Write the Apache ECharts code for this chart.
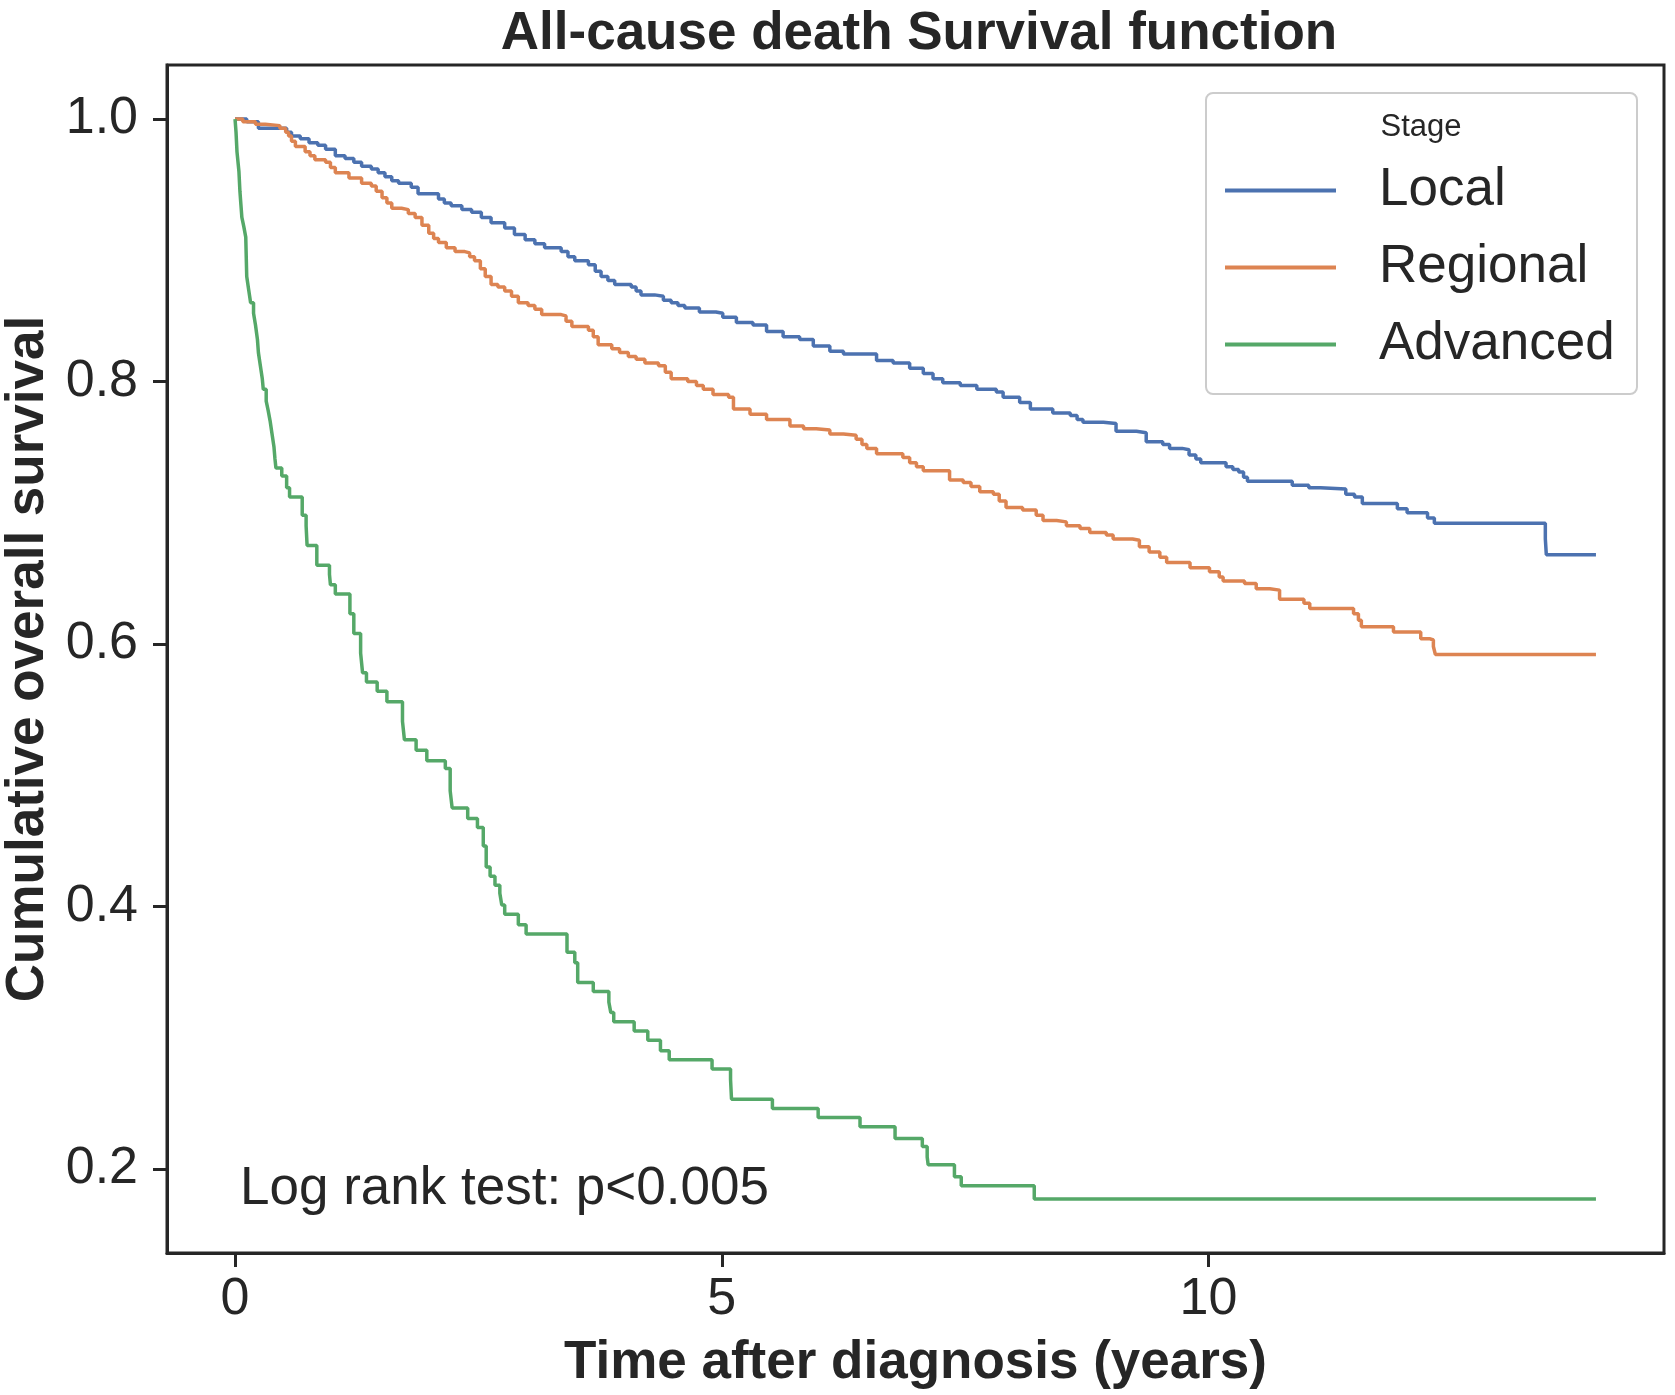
<!DOCTYPE html>
<html>
<head>
<meta charset="utf-8">
<script src="https://cdn.jsdelivr.net/npm/echarts@6/dist/echarts.min.js"></script>
<style>
html,body{margin:0;padding:0;background:#fff;}
#chart{width:1675px;height:1395px;}
</style>
</head>
<body>
<div id="chart"></div>
<script>
var seriesNames = ['Local', 'Regional', 'Advanced'];
var xTicks = [0, 5, 10];
var yTicks = [0.2, 0.4, 0.6, 0.8, 1.0];

var localT = [0,0.12,0.24,0.53,0.58,0.67,0.76,0.85,0.93,1.03,1.13,1.22,1.30,1.40,1.47,1.54,1.61,1.68,1.81,1.88,2.09,2.15,2.22,2.33,2.43,2.53,2.63,2.77,2.87,2.98,3.08,3.18,3.35,3.42,3.49,3.63,3.70,3.76,3.83,3.90,4.07,4.12,4.17,4.31,4.40,4.48,4.55,4.62,4.77,4.94,5.01,5.15,5.32,5.46,5.63,5.80,5.94,6.11,6.25,6.59,6.76,6.93,7.07,7.17,7.27,7.45,7.62,7.82,7.89,8.06,8.17,8.40,8.58,8.65,8.71,8.92,9.05,9.26,9.36,9.53,9.60,9.73,9.80,9.87,9.92,10.18,10.25,10.31,10.36,10.40,10.86,11.03,11.15,11.41,11.50,11.58,11.94,12.04,12.25,12.32,13.46,13.47,13.98];
var localS = [1.0,0.998,0.993,0.990,0.987,0.985,0.982,0.980,0.977,0.972,0.970,0.967,0.964,0.962,0.959,0.956,0.953,0.951,0.948,0.943,0.939,0.936,0.934,0.931,0.929,0.925,0.921,0.917,0.912,0.908,0.905,0.902,0.899,0.895,0.892,0.889,0.884,0.880,0.877,0.874,0.872,0.869,0.866,0.865,0.862,0.860,0.858,0.856,0.853,0.852,0.849,0.845,0.843,0.838,0.834,0.832,0.827,0.823,0.821,0.816,0.814,0.810,0.806,0.802,0.799,0.797,0.794,0.792,0.788,0.784,0.779,0.776,0.774,0.771,0.769,0.768,0.762,0.761,0.754,0.752,0.749,0.748,0.744,0.741,0.738,0.735,0.733,0.731,0.727,0.724,0.721,0.719,0.718,0.714,0.712,0.707,0.703,0.700,0.696,0.692,0.680,0.668,0.668];

var regionalT = [0,0.08,0.21,0.31,0.46,0.52,0.55,0.58,0.62,0.72,0.77,0.82,0.93,0.98,1.03,1.17,1.30,1.40,1.45,1.51,1.56,1.61,1.71,1.78,1.85,1.92,1.99,2.04,2.09,2.17,2.26,2.36,2.41,2.46,2.52,2.57,2.63,2.70,2.77,2.84,2.91,3.01,3.08,3.15,3.35,3.40,3.46,3.63,3.68,3.73,3.87,3.95,4.04,4.12,4.21,4.35,4.42,4.48,4.65,4.74,4.81,4.91,5.07,5.12,5.29,5.46,5.70,5.84,5.97,6.11,6.25,6.38,6.44,6.49,6.59,6.86,6.93,7.00,7.07,7.34,7.48,7.56,7.65,7.79,7.85,7.92,8.09,8.23,8.30,8.44,8.54,8.68,8.78,8.95,9.02,9.22,9.29,9.39,9.50,9.57,9.81,10.01,10.11,10.15,10.37,10.49,10.63,10.73,10.98,11.04,11.49,11.54,11.57,11.90,12.18,12.27,12.31,12.33,13.98];
var regionalS = [1.0,0.998,0.996,0.995,0.993,0.990,0.987,0.983,0.979,0.975,0.972,0.969,0.967,0.963,0.959,0.955,0.951,0.949,0.945,0.940,0.936,0.932,0.931,0.928,0.925,0.919,0.913,0.909,0.906,0.902,0.899,0.898,0.895,0.892,0.886,0.880,0.874,0.872,0.869,0.865,0.860,0.858,0.855,0.851,0.850,0.846,0.842,0.839,0.834,0.828,0.825,0.822,0.819,0.817,0.814,0.812,0.807,0.802,0.800,0.797,0.794,0.790,0.788,0.779,0.775,0.771,0.766,0.764,0.763,0.760,0.759,0.756,0.752,0.749,0.745,0.742,0.738,0.735,0.732,0.725,0.723,0.720,0.716,0.714,0.709,0.704,0.702,0.698,0.694,0.693,0.690,0.688,0.685,0.683,0.680,0.679,0.674,0.670,0.666,0.662,0.658,0.655,0.651,0.648,0.646,0.642,0.641,0.634,0.631,0.627,0.623,0.618,0.613,0.609,0.604,0.603,0.598,0.592,0.592];

var advancedT = [0,0.01,0.02,0.04,0.05,0.06,0.07,0.09,0.11,0.115,0.12,0.14,0.16,0.19,0.21,0.23,0.24,0.26,0.28,0.29,0.32,0.34,0.36,0.38,0.40,0.41,0.42,0.48,0.53,0.56,0.69,0.73,0.74,0.84,0.97,0.98,1.03,1.18,1.22,1.29,1.31,1.35,1.46,1.56,1.72,1.74,1.86,1.97,2.16,2.21,2.23,2.39,2.49,2.55,2.58,2.62,2.67,2.72,2.74,2.77,2.91,2.99,3.41,3.49,3.52,3.68,3.84,3.86,3.89,4.10,4.24,4.37,4.46,4.90,5.09,5.10,5.52,5.99,6.42,6.78,7.06,7.11,7.12,7.39,7.46,8.21,13.98];
var advancedS = [1.0,0.990,0.975,0.960,0.945,0.935,0.925,0.918,0.910,0.895,0.880,0.870,0.860,0.852,0.843,0.832,0.822,0.812,0.802,0.794,0.785,0.778,0.770,0.760,0.750,0.741,0.734,0.728,0.719,0.712,0.698,0.690,0.675,0.660,0.653,0.645,0.638,0.623,0.608,0.593,0.578,0.571,0.564,0.556,0.541,0.527,0.519,0.511,0.505,0.488,0.475,0.467,0.460,0.446,0.430,0.423,0.416,0.410,0.401,0.394,0.386,0.379,0.365,0.357,0.342,0.335,0.327,0.319,0.312,0.305,0.298,0.290,0.283,0.276,0.268,0.253,0.246,0.239,0.232,0.223,0.217,0.209,0.203,0.194,0.187,0.177,0.177];

var colors = ['#4C72B0', '#DD8452', '#55A868'];
var FONT = '"Liberation Sans", Arial, Helvetica, sans-serif';
var INK = '#262626';

function pairs(t, s) { return t.map(function (v, i) { return [v, s[i]]; }); }
var seriesData = [pairs(localT, localS), pairs(regionalT, regionalS), pairs(advancedT, advancedS)];

var chart = echarts.init(document.getElementById('chart'));
chart.setOption({
  animation: false,
  backgroundColor: '#ffffff',
  color: colors,
  title: {
    text: 'All-cause death Survival function',
    left: 914, top: 3, textAlign: 'center',
    textStyle: { fontFamily: FONT, fontSize: 53, fontWeight: 'bold', color: INK }
  },
  grid: {
    left: 167, right: 11, top: 65, bottom: 142,
    containLabel: false, outerBoundsMode: 'none',
    show: true, borderColor: INK, borderWidth: 3, backgroundColor: 'transparent'
  },
  legend: {
    orient: 'vertical',
    left: 1225, top: 164,
    padding: 0,
    itemGap: 24,
    itemWidth: 111, itemHeight: 4,
    icon: 'rect',
    data: seriesNames,
    textStyle: { fontFamily: FONT, fontSize: 53, color: INK, lineHeight: 52, padding: [0, 0, 0, 38] }
  },
  xAxis: {
    type: 'value',
    min: -0.699, max: 14.679,
    name: 'Time after diagnosis (years)',
    nameLocation: 'middle', nameGap: 84,
    nameTextStyle: { fontFamily: FONT, fontSize: 53, fontWeight: 'bold', color: INK },
    axisLine: { show: true, onZero: false, lineStyle: { color: INK, width: 3 } },
    axisTick: { show: true, length: 14, customValues: xTicks, lineStyle: { color: INK, width: 3 } },
    axisLabel: { customValues: xTicks, margin: 21, fontFamily: FONT, fontSize: 52, color: INK },
    splitLine: { show: false }
  },
  yAxis: {
    type: 'value',
    min: 0.1358, max: 1.0412,
    name: 'Cumulative overall survival',
    nameLocation: 'middle', nameGap: 104,
    nameTextStyle: { fontFamily: FONT, fontSize: 53, fontWeight: 'bold', color: INK },
    axisLine: { show: true, onZero: false, lineStyle: { color: INK, width: 3 } },
    axisTick: { show: true, length: 14, customValues: yTicks, lineStyle: { color: INK, width: 3 } },
    axisLabel: { customValues: yTicks, margin: 29, fontFamily: FONT, fontSize: 52, color: INK,
      formatter: function (v) { return v.toFixed(1); } },
    splitLine: { show: false }
  },
  graphic: [
    { type: 'rect', left: 1205, top: 92, z: 0,
      shape: { width: 431, height: 301, r: 7 },
      style: { fill: '#ffffff', stroke: '#cccccc', lineWidth: 2 } },
    { type: 'text', z: 100,
      style: { text: 'Stage', x: 1421, y: 127, align: 'center', verticalAlign: 'middle',
        font: '31px "Liberation Sans", Arial, sans-serif', fill: INK } },
    { type: 'text', z: 100,
      style: { text: 'Log rank test: p<0.005', x: 240, y: 1189, align: 'left', verticalAlign: 'middle',
        font: '53px "Liberation Sans", Arial, sans-serif', fill: INK } }
  ],
  series: seriesNames.map(function (name, i) {
    return {
      name: name, type: 'line', step: 'end', data: seriesData[i],
      showSymbol: false, symbol: 'none', z: 2,
      lineStyle: { width: 3.5, color: colors[i] }, itemStyle: { color: colors[i] }
    };
  })
});
</script>
</body>
</html>
